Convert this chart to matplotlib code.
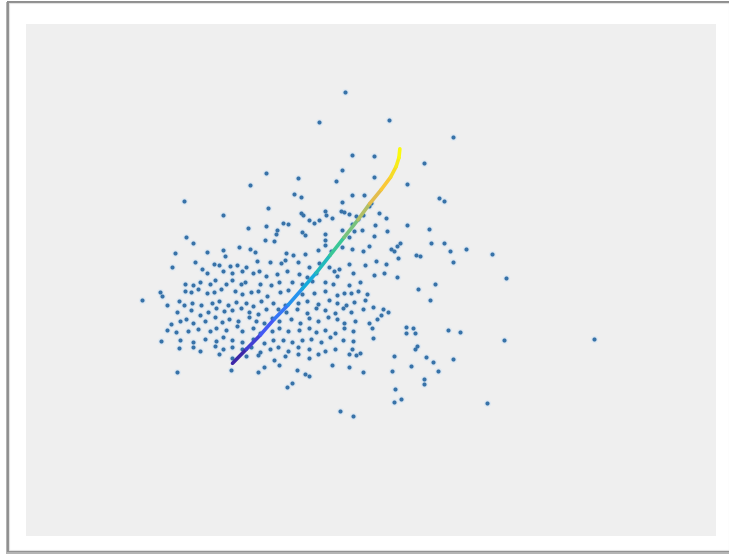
import matplotlib
matplotlib.use("Agg")
import matplotlib.pyplot as plt
import numpy as np
from matplotlib.collections import LineCollection
from matplotlib.colors import LinearSegmentedColormap
from matplotlib.patches import Rectangle

# scattered samples
dot_x = [0.91, 0.37, 1.87, 3.25, 1.07, 1.54, 2.61, -0.78, -0.09, 0.85, 0.72, 1.54, -1.12, 2.25, -0.17, -0.03,
         1.07, 1.33, 2.95, 3.05, -2.55, 0.86, 1.47, -0.73, -1.70, -0.02, 0.02, 0.48, 0.51, 0.84, 0.90, 1.00,
         1.15, 1.30, 1.43, 1.65, 1.80, -0.31, -0.42, 0.14, 0.37, 0.64, 0.26, -0.77, -1.17, 1.06, 1.20, -0.54,
         -0.57, 0.00, 0.07, 0.50, 0.85, 1.11, 1.56, 1.83, 2.25, 2.72, -2.50, -2.36, -0.80, -0.60, 0.50, 1.00,
         1.28, 1.55, 2.10, 2.03, 2.77, 3.05, 3.53, 3.18, -2.74, -2.04, -1.70, -1.35, -1.12, -1.02, -0.35, -0.20,
         0.05, 0.35, 0.50, 0.62, 0.85, 1.06, 1.30, 1.43, 1.90, 1.98, 2.45, 2.53, 4.08, 3.25, -2.81, -2.30,
         -1.90, -1.80, -1.67, -1.55, -1.40, -1.20, -0.98, -0.70, -0.46, -0.38, -0.09, 0.15, 0.37, 0.58, 0.80, 1.00,
         1.35, 1.58, 2.05, 1.80, 4.39, -2.15, -2.05, -1.70, -1.50, -1.30, -1.05, -0.93, -0.77, -0.55, -0.33, -0.06,
         0.10, 0.30, 0.68, 0.75, 1.10, 1.55, 1.75, 2.03, -2.52, -2.35, -2.20, -1.98, -1.87, -1.65, -1.50, -1.32,
         -1.23, -0.90, -0.67, -0.50, -0.22, -0.01, 0.22, 0.50, 0.67, 1.00, 1.25, 2.85, 2.50, -3.05, -3.02, -3.45,
         -2.52, -2.40, -2.25, -2.05, -1.90, -1.75, -1.45, -1.30, -1.10, -0.95, -0.75, -0.47, -0.30, 0.00, 0.25, 0.50,
         0.75, 0.90, 1.05, 1.20, 1.40, 2.75, -2.90, -2.65, -2.55, -2.38, -2.18, -1.95, -1.80, -1.60, -1.43, -1.20,
         -1.05, -0.88, -0.62, -0.38, -0.10, 0.10, 0.34, 0.58, 0.74, 0.95, 1.12, 1.35, -2.70, -2.40, -2.20, -2.02,
         -1.85, -1.68, -1.50, -1.32, -1.15, -0.95, -0.77, -0.52, -0.35, -0.12, 0.10, 0.30, 0.50, 0.70, 0.88, 1.05,
         1.30, 1.53, 1.73, 1.84, 1.70, -2.82, -2.62, -2.50, -2.35, -2.10, -1.88, -1.72, -1.58, -1.38, -1.15, -1.00,
         -0.82, -0.65, -0.50, -0.25, -0.05, 0.15, 0.35, 0.55, 0.75, 0.90, 1.13, 1.43, 1.60, 2.23, 2.38, -2.90,
         -2.72, -2.45, -2.25, -1.98, -1.85, -1.65, -1.40, -1.30, -1.05, -0.90, -0.65, -0.50, -0.30, -0.07, 0.15, 0.30,
         0.50, 0.70, 0.90, 1.10, 1.50, 2.23, 2.42, 3.13, 3.40, -3.03, -2.62, -2.35, -2.10, -1.85, -1.70, -1.50,
         -1.30, -1.05, -0.83, -0.62, -0.42, -0.22, 0.00, 0.18, 0.40, 0.60, 0.88, 1.10, 1.53, 4.33, 6.28, -2.65,
         -2.35, -2.20, -1.88, -1.70, -1.50, -1.30, -1.10, -0.90, -0.70, -0.52, -0.30, -0.10, 0.15, 0.33, 0.50, 0.70,
         1.07, 1.25, 2.47, 2.43, -1.80, -1.50, -1.20, -0.95, -0.60, -0.38, -0.10, 0.15, 1.00, 1.15, 1.98, 2.66,
         3.25, 2.82, -2.70, -1.53, -0.95, -0.82, -0.50, -0.12, 0.05, 0.15, 0.63, 1.00, 1.30, 1.93, 2.35, 2.92,
         -0.33, -0.22, 2.63, 2.63, 2.00, 1.98, 2.12, 3.98, 0.81, 1.10]
dot_y = [6.10, 5.26, 5.30, 4.83, 4.32, 4.30, 4.11, 3.81, 3.67, 3.90, 3.59, 3.70, 3.48, 3.51, 3.22, 3.14,
         3.21, 3.19, 3.10, 3.04, 3.04, 3.00, 2.97, 2.82, 2.63, 2.69, 2.63, 2.74, 2.64, 2.74, 2.73, 2.65,
         2.60, 2.62, 2.90, 2.70, 2.56, 2.38, 2.42, 2.50, 2.48, 2.55, 2.40, 2.32, 2.28, 2.37, 2.52, 2.21,
         2.10, 2.15, 2.08, 2.10, 2.20, 2.18, 2.34, 2.18, 2.36, 2.23, 2.02, 1.83, 1.93, 1.90, 1.93, 2.02,
         2.20, 2.03, 1.84, 1.75, 1.84, 1.84, 1.68, 1.61, 1.57, 1.60, 1.66, 1.73, 1.68, 1.58, 1.56, 1.50,
         1.53, 1.65, 1.80, 1.63, 1.72, 1.68, 1.63, 1.76, 1.67, 1.63, 1.50, 1.48, 1.52, 1.32, 1.18, 1.30,
         1.25, 1.23, 1.48, 1.20, 1.22, 1.18, 1.33, 1.30, 1.27, 1.35, 1.30, 1.18, 1.28, 1.17, 1.10, 1.24,
         1.22, 1.33, 1.42, 1.25, 0.86, 1.10, 1.00, 1.05, 1.00, 1.05, 1.00, 1.05, 0.90, 0.98, 1.04, 0.97,
         0.89, 1.00, 1.06, 0.90, 0.99, 0.95, 1.00, 0.88, 0.70, 0.65, 0.75, 0.70, 0.80, 0.70, 0.80, 0.70,
         0.75, 0.70, 0.65, 0.75, 0.73, 0.69, 0.78, 0.75, 0.70, 0.65, 0.73, 0.70, 0.55, 0.45, 0.35, 0.23,
         0.50, 0.45, 0.55, 0.42, 0.47, 0.55, 0.50, 0.40, 0.45, 0.50, 0.35, 0.45, 0.52, 0.40, 0.44, 0.49,
         0.38, 0.42, 0.44, 0.50, 0.40, 0.23, 0.10, 0.20, 0.10, 0.15, 0.10, 0.15, 0.21, 0.10, 0.18, 0.15,
         0.08, 0.22, 0.15, 0.10, 0.15, 0.20, 0.12, 0.25, 0.15, 0.10, 0.18, 0.25, -0.10, -0.05, -0.18, -0.10,
         0.00, -0.08, -0.05, 0.02, -0.10, -0.15, -0.02, -0.03, -0.10, -0.03, -0.13, 0.00, -0.06, -0.14, 0.00, -0.10,
         -0.03, 0.05, -0.02, -0.10, -0.20, -0.45, -0.35, -0.30, -0.42, -0.35, -0.25, -0.38, -0.30, -0.35, -0.25, -0.35,
         -0.42, -0.28, -0.35, -0.30, -0.40, -0.27, -0.35, -0.25, -0.30, -0.40, -0.35, -0.42, -0.30, -0.52, -0.55, -0.60,
         -0.67, -0.65, -0.58, -0.65, -0.55, -0.62, -0.50, -0.65, -0.55, -0.70, -0.65, -0.55, -0.65, -0.60, -0.55, -0.67,
         -0.60, -0.70, -0.55, -0.65, -0.55, -0.70, -0.70, -0.60, -0.66, -0.92, -0.90, -0.95, -0.85, -0.92, -0.82, -0.88,
         -0.95, -0.85, -0.98, -0.90, -0.88, -0.95, -0.90, -0.85, -0.95, -0.82, -0.88, -0.92, -0.83, -0.90, -0.85, -1.12,
         -1.10, -1.20, -1.05, -1.15, -1.08, -1.15, -1.10, -1.22, -1.15, -1.08, -1.20, -1.10, -1.15, -1.30, -1.20, -1.15,
         -1.15, -1.25, -1.05, -1.15, -1.30, -1.40, -1.35, -1.32, -1.45, -1.35, -1.30, -1.40, -1.30, -1.32, -1.33, -1.38,
         -1.42, -1.50, -1.80, -1.73, -1.80, -1.65, -1.60, -1.75, -1.85, -1.90, -1.60, -1.65, -1.80, -1.77, -1.63, -1.77,
         -2.22, -2.10, -2.00, -2.13, -2.27, -2.65, -2.55, -2.68, -2.90, -3.03]

# the fitted curve, running from low (dark) to high (yellow)
curve_x = [-1.50, -1.20, -0.90, -0.60, -0.30, 0.00, 0.30, 0.60, 0.90, 1.20, 1.45, 1.70, 1.90, 2.02, 2.08, 2.10]
curve_y = [-1.55, -1.15, -0.75, -0.30, 0.10, 0.55, 1.00, 1.50, 2.00, 2.50, 2.95, 3.35, 3.70, 4.00, 4.25, 4.50]

# parula-like colours for the curve
parula = LinearSegmentedColormap.from_list("parula", [
    (0.24, 0.15, 0.66), (0.28, 0.32, 0.96), (0.18, 0.53, 0.97), (0.07, 0.69, 0.84),
    (0.22, 0.78, 0.59), (0.65, 0.75, 0.42), (0.99, 0.74, 0.25), (0.96, 0.88, 0.14), (0.98, 0.98, 0.05)])

W, H = 729, 556
fig = plt.figure(figsize=(W / 100, H / 100), dpi=100)
fig.patch.set_facecolor("white")

# card with a thin shadow on the left and bottom (behind the axes)
fig.add_artist(Rectangle((6 / W, 2 / H), (W - 6) / W, (H - 4) / H, transform=fig.transFigure,
                         facecolor="#b4b4b4", edgecolor="none", zorder=-10))
fig.add_artist(Rectangle((7 / W, 4 / H), (W - 7) / W, (H - 5) / H, transform=fig.transFigure,
                         facecolor="#8f8f8f", edgecolor="none", zorder=-9))
fig.add_artist(Rectangle((8.5 / W, 6 / H), (W - 8.5) / W, (H - 9) / H, transform=fig.transFigure,
                         facecolor="white", edgecolor="#e2e2e2", linewidth=0.8, zorder=-8))

ax = fig.add_axes([25.6 / W, 20 / H, 690.4 / W, 512 / H])
ax.set_facecolor("#efefef")
for s in ax.spines.values():
    s.set_visible(False)
ax.set_xticks([])
ax.set_yticks([])

# soft halo under each dot, then the dots themselves
ax.scatter(dot_x, dot_y, s=26, color="#dbe7f2", linewidths=0, alpha=0.8, zorder=1)
ax.scatter(dot_x, dot_y, s=9, color="#3772a8", linewidths=0, zorder=2)

pts = np.column_stack([curve_x, curve_y])
segs = np.stack([pts[:-1], pts[1:]], axis=1)
lc = LineCollection(segs, cmap=parula, linewidths=2.6, capstyle="round", zorder=3)
lc.set_array(np.linspace(0, 1, len(segs)))
ax.add_collection(lc)

ax.set_xlim(-5.95, 8.90)
ax.set_ylim(-6.42, 8.02)

fig.savefig("out.png", dpi=100)
